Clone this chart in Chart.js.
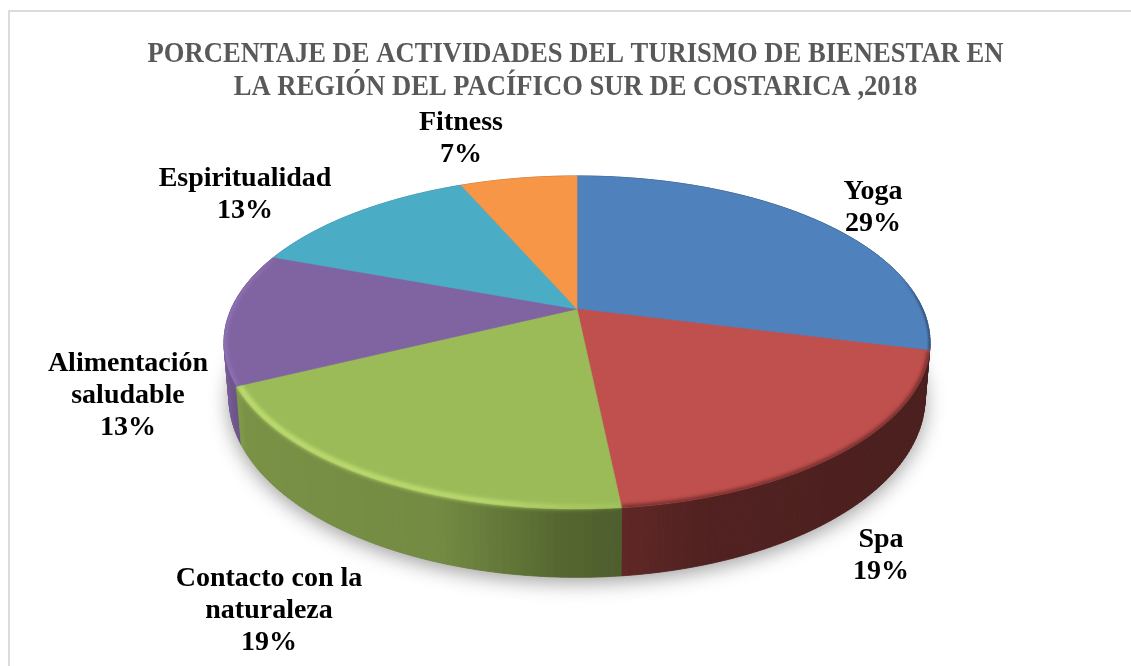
<!DOCTYPE html>
<html><head><meta charset="utf-8">
<style>
html,body{margin:0;padding:0;background:#fff;width:1131px;height:666px;overflow:hidden}
#frame{position:absolute;left:8px;top:10px;width:1200px;height:700px;border:2px solid #dcdcdc;box-sizing:border-box}
#c{position:absolute;left:0;top:0}
</style></head><body>
<div id="frame"></div>
<canvas id="c" width="1131" height="666"></canvas>
<script src="https://cdn.jsdelivr.net/npm/chart.js@4"></script>
<script>
const categories = ["Yoga","Spa","Contacto con la naturaleza","Alimentación saludable","Espiritualidad","Fitness"];
const values = [29,19.4,19.4,12.9,12.9,6.5];
const colors = ["#4F81BD","#C0504D","#9BBB59","#8064A2","#4BACC6","#F79646"];
const titleLines = ["PORCENTAJE DE ACTIVIDADES DEL TURISMO DE BIENESTAR EN","LA REGIÓN DEL PACÍFICO SUR DE COSTARICA ,2018"];
const labelLines = [["Yoga"],["Spa"],["Contacto con la","naturaleza"],["Alimentación","saludable"],["Espiritualidad"],["Fitness"]];

// layout of the perspective view
const LABEL_POS = [[873,192],[881,540],[269,579],[128,364],[245,179],[461,123]];
const LABEL_LH = 31.7, LABEL_FONT = "bold 28px 'Liberation Serif'";
const CX = 577, TOP = {cy:309,a:159.8,c:345.8}, BOT = {cy:361,a:172.8,c:341}, PB = 0.2012;
const STEP = Math.PI/180;
const TITLE_SQUEEZE = 0.887, TITLE_CENTER = 575.5;

function proj(ring, ang, r=1){
  const u = r*Math.cos(ang), v = r*Math.sin(ang), d = 1 - PB*v;
  return [CX + ring.c*u/d, ring.cy + ring.a*v/d];
}
function rgb(h){return [1,3,5].map(i=>parseInt(h.substr(i,2),16));}
const SHADE = [[224,.95],[232,.86],[245,.78],[440,.74],[560,.55],[620,.5],[700,.42],[930,.39]];
function shade(x){
  if(x<=SHADE[0][0]) return SHADE[0][1];
  for(let i=1;i<SHADE.length;i++){
    if(x<=SHADE[i][0]){const t=(x-SHADE[i-1][0])/(SHADE[i][0]-SHADE[i-1][0]);return SHADE[i-1][1]+t*(SHADE[i][1]-SHADE[i-1][1]);}
  }
  return SHADE[SHADE.length-1][1];
}
function arcPath(ctx, ring, a0, a1, r=1, move=true){
  for(let a=a0;;a+=STEP/2){
    const p=proj(ring,Math.min(a,a1),r);
    if(move){ctx.moveTo(p[0],p[1]);move=false;} else ctx.lineTo(p[0],p[1]);
    if(a>=a1)break;
  }
}
const pie3d = {
  id:'pie3d',
  beforeDraw(chart){
    const tb=chart.titleBlock;
    if(tb && !tb._squeezed){
      tb._squeezed=true;
      const orig=tb.draw;
      tb.draw=function(area){
        const c=this.ctx;c.save();
        c.translate(TITLE_CENTER,0);c.scale(TITLE_SQUEEZE,1);c.translate(-chart.width/2,0);
        orig.call(this,area);c.restore();
      };
    }
  },
  beforeDatasetsDraw(chart){
    const ctx = chart.ctx, arcs = chart.getDatasetMeta(0).data;
    ctx.save();
    // ground shadow
    ctx.save();
    ctx.shadowColor='rgba(0,0,0,.38)';ctx.shadowBlur=20;ctx.shadowOffsetY=5;ctx.shadowOffsetX=0;
    ctx.fillStyle='#888';ctx.beginPath();arcPath(ctx,BOT,0,Math.PI*2);ctx.closePath();ctx.fill();
    ctx.restore();
    // outer wall
    const quads=[];
    arcs.forEach((el,i)=>{
      const c=rgb(colors[i]);
      for(let a=el.startAngle;a<el.endAngle;a+=STEP){
        quads.push({a,b:Math.min(a+STEP,el.endAngle),c});
      }
    });
    quads.sort((p,q)=>Math.sin(p.a)-Math.sin(q.a));
    for(const q of quads){
      const t0=proj(TOP,q.a),t1=proj(TOP,q.b),b1=proj(BOT,q.b),b0=proj(BOT,q.a);
      const s=shade((t0[0]+t1[0])/2),col=`rgb(${q.c.map(v=>Math.round(v*s)).join(',')})`;
      ctx.fillStyle=col;ctx.strokeStyle=col;ctx.lineWidth=.8;
      ctx.beginPath();ctx.moveTo(...t0);ctx.lineTo(...t1);ctx.lineTo(...b1);ctx.lineTo(...b0);ctx.closePath();ctx.fill();ctx.stroke();
    }
    // top face, built from the angles the doughnut controller computed
    const facePath=(el,r=1)=>{ctx.beginPath();ctx.moveTo(CX,TOP.cy);arcPath(ctx,TOP,el.startAngle,el.endAngle,r,false);ctx.closePath();};
    arcs.forEach((el,i)=>{
      ctx.fillStyle=colors[i];ctx.strokeStyle=colors[i];ctx.lineWidth=.6;
      facePath(el);ctx.fill();ctx.stroke();
    });
    // bevel along the rim
    arcs.forEach((el,i)=>{
      ctx.save();
      facePath(el,i===2?1.025:1);ctx.clip();
      const g=ctx.createLinearGradient(224,0,930,0);
      if(i===2){g.addColorStop(0,'rgba(200,232,120,.95)');g.addColorStop(.38,'rgba(200,232,120,.85)');g.addColorStop(.55,'rgba(185,220,105,.3)');ctx.filter='blur(2.2px)';ctx.lineWidth=4.5;}
      else if(i===3){g.addColorStop(0,'rgba(160,135,205,.6)');g.addColorStop(.05,'rgba(160,135,205,.5)');g.addColorStop(.08,'rgba(160,135,205,0)');ctx.filter='blur(2px)';ctx.lineWidth=4;}
      else if(i===1){g.addColorStop(0,'rgba(70,25,25,.9)');g.addColorStop(1,'rgba(70,25,25,.9)');ctx.filter='blur(2.2px)';ctx.lineWidth=3.5;}
      else if(i===0){g.addColorStop(.96,'rgba(40,60,90,0)');g.addColorStop(.985,'rgba(40,60,90,.8)');g.addColorStop(1,'rgba(40,60,90,.9)');ctx.filter='blur(1px)';ctx.lineWidth=2.5;}
      else {ctx.restore();return;}
      ctx.strokeStyle=g;
      ctx.beginPath();arcPath(ctx,TOP,el.startAngle,el.endAngle,i===2?.992:1);ctx.stroke();
      ctx.restore();
    });
    ctx.restore();
    return false;
  },
  afterDraw(chart){
    const ctx=chart.ctx;
    ctx.save();
    ctx.font=LABEL_FONT;ctx.fillStyle='#000';ctx.textAlign='center';ctx.textBaseline='middle';
    categories.forEach((_,i)=>{
      const [x,y]=LABEL_POS[i];
      const lines=[...labelLines[i],Math.round(values[i])+'%'];
      lines.forEach((t,k)=>ctx.fillText(t,x,y+k*LABEL_LH));
    });
    ctx.restore();
  }
};
new Chart(document.getElementById('c'),{
  type:'pie',
  data:{labels:categories,datasets:[{data:values,backgroundColor:colors,borderWidth:0}]},
  options:{
    responsive:false,animation:false,
    layout:{padding:{top:38}},
    plugins:{
      legend:{display:false},tooltip:{enabled:false},
      title:{display:true,text:titleLines,color:'#595959',align:'center',
        font:{family:"'Liberation Serif'",weight:'bold',size:30,lineHeight:1.1},padding:{top:0,bottom:0}}
    }
  },
  plugins:[pie3d]
});
</script>
</body></html>
